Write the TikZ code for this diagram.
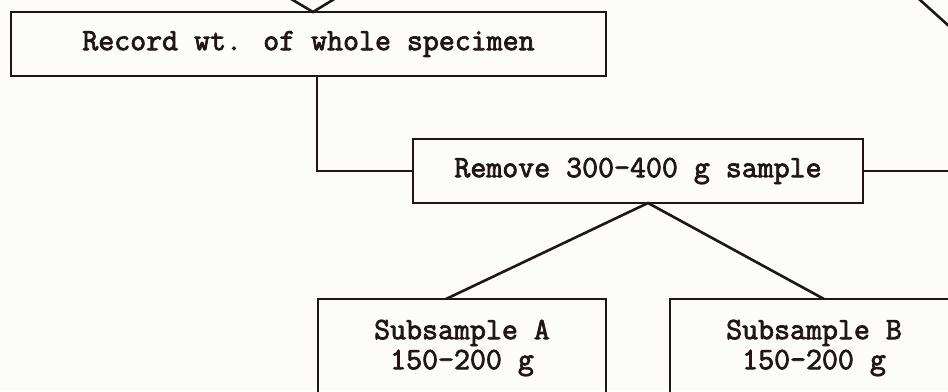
\documentclass[tikz,border=0pt]{standalone}
\usepackage{fontspec}
\newfontfamily\twfont{Latin Modern Mono}[FakeBold=2.5]
\definecolor{ink}{HTML}{201616}
\definecolor{paper}{HTML}{FCFCF8}
\begin{document}
\begin{tikzpicture}[x=1pt,y=-1pt,
  box/.style={draw=ink, line width=2.8pt, rectangle, inner sep=0pt, outer sep=0pt,
    align=center, text=ink, font=\twfont\fontsize{31}{30}\selectfont},
  conn/.style={draw=ink, line width=2.6pt}]
\fill[paper] (0,0) rectangle (948,391);
\useasboundingbox (0,0) rectangle (948,391);
\clip (0,0) rectangle (948,391);
\node[box, minimum width=595pt, minimum height=64pt] (rec) at (308.5,44) {Record wt. of whole specimen};
\node[box, minimum width=450pt, minimum height=64pt] (rem) at (638,171) {Remove 300-400 g sample};
\node[box, minimum width=288pt, minimum height=98pt] (subA) at (462,348) {Subsample A\\[0pt]150-200 g};
\node[box, minimum width=288pt, minimum height=98pt] (subB) at (814,348) {Subsample B\\[0pt]150-200 g};
% free ends and junction points
\coordinate (topL) at (276,-10);
\coordinate (topR) at (349,-10);
\coordinate (apex1) at (rec.north -| 313,0);
\coordinate (drop) at (rec.south -| 317,0);
\coordinate (apex2) at (rem.south -| 648,0);
\coordinate (endA) at (subA.north -| 446,0);
\coordinate (endB) at (subB.north -| 824,0);
\coordinate (rightEnd) at (960,171);
\coordinate (diagS) at (909,-10);
\coordinate (diagE) at (970,45);
\draw[conn] (topL) -- (apex1) -- (topR);
\draw[conn] (drop) |- (rem.west);
\draw[conn] (rem.east) -- (rightEnd);
\draw[conn] (endA) -- (apex2) -- (endB);
\draw[conn] (diagS) -- (diagE);
\end{tikzpicture}
\end{document}
